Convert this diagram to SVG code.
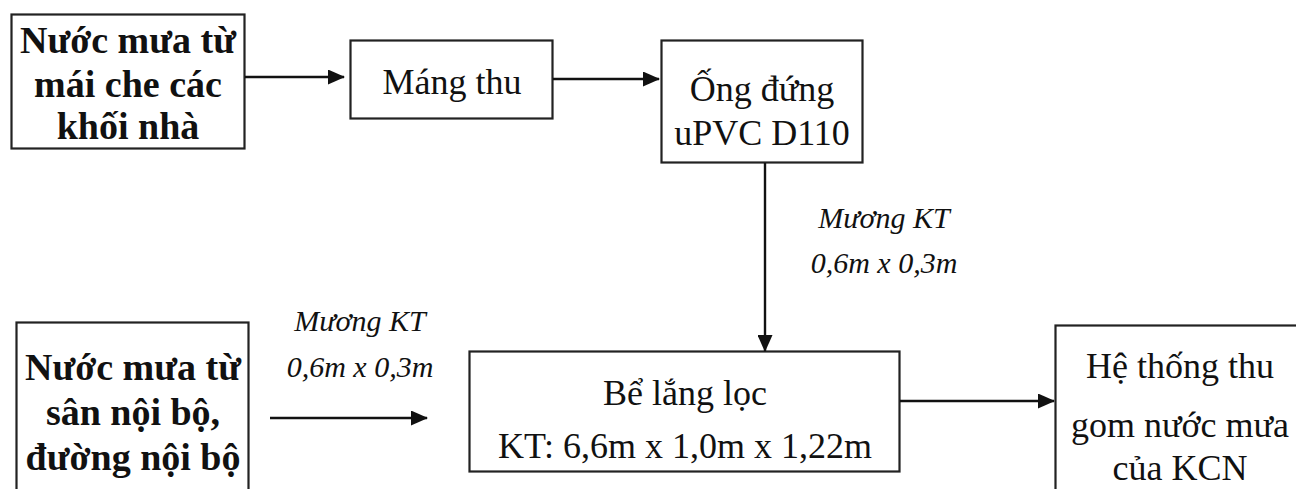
<svg xmlns="http://www.w3.org/2000/svg" width="1296" height="489" viewBox="0 0 1296 489">
<style>
.box{fill:#fff;stroke:#222;stroke-width:2.2}
.t{font-family:"Liberation Serif","Times New Roman",serif;font-size:36px;fill:#111;text-anchor:middle}
.b{font-weight:bold;font-size:38px}
.i{font-style:italic;font-size:30px}
.ln{stroke:#111;stroke-width:2.4;fill:none}
</style>
<defs>
<marker id="ah" markerWidth="17" markerHeight="15" refX="16" refY="7.5" orient="auto" markerUnits="userSpaceOnUse">
<path d="M0,0 L17,7.5 L0,15 Z" fill="#111"/>
</marker>
</defs>
<rect width="1296" height="489" fill="#fff"/>
<g id="n1">
<rect class="box" x="11.5" y="14.5" width="233" height="134"/>
<text class="t b" x="128" y="53">Nước mưa từ</text>
<text class="t b" x="128" y="97">mái che các</text>
<text class="t b" x="128" y="139">khối nhà</text>
</g>
<g id="n2">
<rect class="box" x="350.5" y="40.5" width="202" height="78"/>
<text class="t" x="452" y="94">Máng thu</text>
</g>
<g id="n3">
<rect class="box" x="661.5" y="40.5" width="201" height="122"/>
<text class="t" x="762" y="101">Ống đứng</text>
<text class="t" x="762" y="145">uPVC D110</text>
</g>
<g id="n4">
<rect class="box" x="16.5" y="322.5" width="232" height="190"/>
<text class="t b" x="133" y="380">Nước mưa từ</text>
<text class="t b" x="133" y="425">sân nội bộ,</text>
<text class="t b" x="133" y="470">đường nội bộ</text>
</g>
<g id="n5">
<rect class="box" x="469.5" y="351.5" width="430" height="120"/>
<text class="t" x="685" y="405">Bể lắng lọc</text>
<text class="t" x="685" y="458">KT: 6,6m x 1,0m x 1,22m</text>
</g>
<g id="n6">
<rect class="box" x="1055.5" y="325.5" width="260" height="190"/>
<text class="t" x="1180" y="378">Hệ thống thu</text>
<text class="t" x="1180" y="437">gom nước mưa</text>
<text class="t" x="1180" y="480">của KCN</text>
</g>
<g id="connectors">
<line class="ln" x1="245" y1="77" x2="344" y2="77" marker-end="url(#ah)"/>
<line class="ln" x1="553" y1="79" x2="659" y2="79" marker-end="url(#ah)"/>
<line class="ln" x1="765" y1="163" x2="765" y2="351" marker-end="url(#ah)"/>
<line class="ln" x1="270" y1="418" x2="427" y2="418" marker-end="url(#ah)"/>
<line class="ln" x1="900" y1="401" x2="1054" y2="401" marker-end="url(#ah)"/>
<text class="t i" x="884" y="228">Mương KT</text>
<text class="t i" x="884" y="273">0,6m x 0,3m</text>
<text class="t i" x="360" y="331">Mương KT</text>
<text class="t i" x="360" y="377">0,6m x 0,3m</text>
</g>
</svg>
